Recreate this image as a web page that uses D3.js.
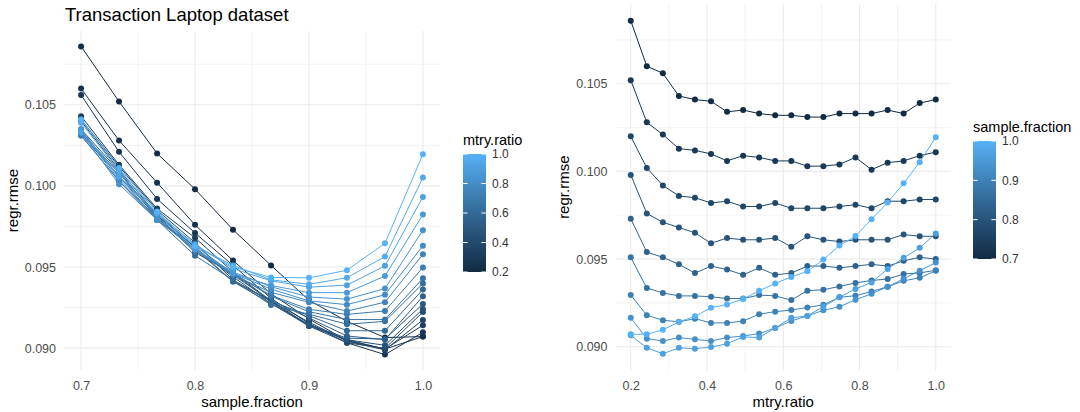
<!DOCTYPE html>
<html>
<head>
<meta charset="utf-8">
<script src="https://cdn.jsdelivr.net/npm/d3@7"></script>
<style>
  body { margin: 0; background: #fff; }
  text { font-family: "Liberation Sans", Arial, sans-serif; }
</style>
</head>
<body>
<svg width="1080" height="412"></svg>
<script>
// grid values
var sampleFraction = [0.7, 0.7333, 0.7667, 0.8, 0.8333, 0.8667, 0.9, 0.9333, 0.9667, 1.0];
var mtryRatio = [0.2, 0.2421, 0.2842, 0.3263, 0.3684, 0.4105, 0.4526, 0.4947, 0.5368, 0.5789,
	0.6211, 0.6632, 0.7053, 0.7474, 0.7895, 0.8316, 0.8737, 0.9158, 0.9579, 1.0];

// regr.rmse, one array per sample.fraction, in mtryRatio order
var rmseSf070 = [0.1086, 0.1060, 0.1056, 0.1043, 0.1041, 0.1040, 0.1034, 0.1035, 0.1033, 0.1032,
	0.1032, 0.1031, 0.1031, 0.1033, 0.1033, 0.1033, 0.1035, 0.1033, 0.1039, 0.1041];
var rmseSf073 = [0.1052, 0.1028, 0.1021, 0.1013, 0.1012, 0.1010, 0.1006, 0.1009, 0.1008, 0.1006,
	0.1006, 0.1003, 0.1003, 0.1004, 0.1008, 0.1001, 0.1005, 0.1006, 0.1009, 0.1011];
var rmseSf077 = [0.1020, 0.1002, 0.0992, 0.0986, 0.0985, 0.0982, 0.0983, 0.0980, 0.0980, 0.0982,
	0.0979, 0.0979, 0.0979, 0.0980, 0.0981, 0.0979, 0.0983, 0.0983, 0.0984, 0.0984];
var rmseSf080 = [0.0998, 0.0976, 0.0971, 0.0968, 0.0965, 0.0959, 0.0962, 0.0961, 0.0961, 0.0962,
	0.0957, 0.0963, 0.0961, 0.0960, 0.0961, 0.0961, 0.0961, 0.0964, 0.0963, 0.0963];
var rmseSf083 = [0.0973, 0.0954, 0.0951, 0.0947, 0.0942, 0.0946, 0.0944, 0.0941, 0.0945, 0.0941,
	0.0942, 0.0946, 0.0946, 0.0945, 0.0946, 0.0947, 0.0946, 0.0949, 0.0951, 0.0950];
var rmseSf087 = [0.0951, 0.09335, 0.09307, 0.0929, 0.0929, 0.09285, 0.09275, 0.09275, 0.09295, 0.0929,
	0.09266, 0.0932, 0.09325, 0.09344, 0.09364, 0.09378, 0.09386, 0.09415, 0.09421, 0.09436];
var rmseSf090 = [0.09295, 0.0918, 0.09151, 0.09142, 0.0916, 0.09136, 0.09136, 0.09146, 0.09186, 0.0920,
	0.09209, 0.09224, 0.09239, 0.09282, 0.09291, 0.09315, 0.09342, 0.09376, 0.09393, 0.09433];
var rmseSf093 = [0.09165, 0.09046, 0.09033, 0.09052, 0.09042, 0.09033, 0.09052, 0.09061, 0.09075, 0.09107,
	0.09147, 0.09176, 0.09208, 0.09228, 0.09268, 0.09302, 0.09342, 0.09388, 0.09434, 0.0948];
var rmseSf097 = [0.09065, 0.08994, 0.0896, 0.08994, 0.08989, 0.08998, 0.09017, 0.09056, 0.09052, 0.09107,
	0.09165, 0.09176, 0.09229, 0.09283, 0.09329, 0.09367, 0.09444, 0.09507, 0.09564, 0.09646];
var rmseSf100 = [0.09071, 0.09071, 0.09097, 0.09141, 0.09174, 0.09222, 0.09241, 0.09272, 0.09319, 0.09361,
	0.09398, 0.0943, 0.09497, 0.09578, 0.09631, 0.09727, 0.09823, 0.09932, 0.10052, 0.10195];

var rmse = [rmseSf070, rmseSf073, rmseSf077, rmseSf080, rmseSf083,
	rmseSf087, rmseSf090, rmseSf093, rmseSf097, rmseSf100];

var title = "Transaction Laptop dataset";

// long table
var rows = [];
sampleFraction.forEach((sf, i) => {
	mtryRatio.forEach((m, j) => {
		rows.push({ sf: sf, mtry: m, rmse: rmse[i][j] });
	});
});

var svg = d3.select("svg");

// ggplot default gradient
var grad = d3.interpolateLab("#132B43", "#56B1F7");

// 5% expansion like ggplot
function expand(ext) {
	var pad = (ext[1] - ext[0]) * 0.05;
	return [ext[0] - pad, ext[1] + pad];
}
var yDomain = expand(d3.extent(rows, (d) => d.rmse));

function panel(opt) {
	var x = d3.scaleLinear().domain(expand(d3.extent(opt.xvals))).range([opt.left, opt.right]);
	var y = d3.scaleLinear().domain(yDomain).range([opt.bottom, opt.top]);
	var col = d3.scaleSequential(grad).domain(d3.extent(opt.gvals));

	var g = svg.append("g");

	// grid, minor then major
	var grid = g.append("g");
	opt.xMinor.forEach((v) => {
		grid.append("line").attr("x1", x(v)).attr("x2", x(v)).attr("y1", opt.top).attr("y2", opt.bottom)
			.attr("stroke", "#F0F0F0").attr("stroke-width", 0.8);
	});
	[0.0925, 0.0975, 0.1025, 0.1075].forEach((v) => {
		grid.append("line").attr("x1", opt.left).attr("x2", opt.right).attr("y1", y(v)).attr("y2", y(v))
			.attr("stroke", "#F0F0F0").attr("stroke-width", 0.8);
	});
	opt.xTicks.forEach((v) => {
		grid.append("line").attr("x1", x(v)).attr("x2", x(v)).attr("y1", opt.top).attr("y2", opt.bottom)
			.attr("stroke", "#EBEBEB").attr("stroke-width", 1.1);
	});
	[0.090, 0.095, 0.100, 0.105].forEach((v) => {
		grid.append("line").attr("x1", opt.left).attr("x2", opt.right).attr("y1", y(v)).attr("y2", y(v))
			.attr("stroke", "#EBEBEB").attr("stroke-width", 1.1);
	});

	// axes (labels only, no ticks)
	var xAxis = g.append("g").attr("transform", "translate(0," + (opt.bottom + 8) + ")")
		.call(d3.axisBottom(x).tickValues(opt.xTicks).tickFormat(d3.format(".1f")).tickSize(0));
	var yAxis = g.append("g").attr("transform", "translate(" + (opt.left - 5) + ",0)")
		.call(d3.axisLeft(y).tickValues([0.090, 0.095, 0.100, 0.105]).tickFormat(d3.format(".3f")).tickSize(0));
	[xAxis, yAxis].forEach((a) => {
		a.select(".domain").remove();
		a.selectAll("text").attr("fill", "#4D4D4D").style("font-size", "12.5px")
			.style("font-family", "'Liberation Sans', Arial, sans-serif");
	});

	g.append("text").attr("x", (opt.left + opt.right) / 2).attr("y", 407)
		.attr("text-anchor", "middle").style("font-size", "15px").text(opt.xTitle);
	g.append("text").attr("transform", "translate(" + opt.yTitleX + "," + ((opt.top + opt.bottom) / 2) + ") rotate(-90)")
		.attr("text-anchor", "middle").style("font-size", "15px").text("regr.rmse");

	// one line per group
	var groups = d3.groups(rows, (d) => d[opt.group]);
	var line = d3.line().x((d) => x(d[opt.xkey])).y((d) => y(d.rmse));
	g.append("g").selectAll("path")
		.data(groups)
		.enter().append("path")
		.attr("d", (d) => line(d[1].slice().sort((a, b) => a[opt.xkey] - b[opt.xkey])))
		.attr("fill", "none")
		.attr("stroke", (d) => col(d[0]))
		.attr("stroke-width", 1);

	g.append("g").selectAll("circle")
		.data(rows.slice().sort((a, b) => a[opt.group] - b[opt.group]))
		.enter().append("circle")
		.attr("cx", (d) => x(d[opt.xkey]))
		.attr("cy", (d) => y(d.rmse))
		.attr("r", 3)
		.attr("fill", (d) => col(d[opt.group]));

	// colour bar legend
	var leg = opt.legend;
	var gradId = "grad" + opt.group;
	var lg = svg.append("defs").append("linearGradient").attr("id", gradId)
		.attr("x1", 0).attr("x2", 0).attr("y1", 1).attr("y2", 0);
	d3.range(0, 1.01, 0.1).forEach((t) => {
		lg.append("stop").attr("offset", t).attr("stop-color", grad(t));
	});
	var ly = d3.scaleLinear().domain(col.domain()).range([leg.bottom, leg.top]);
	g.append("text").attr("x", leg.x).attr("y", leg.titleY).style("font-size", "14.5px").text(leg.title);
	g.append("rect").attr("x", leg.x).attr("y", leg.top).attr("width", 23).attr("height", leg.bottom - leg.top)
		.attr("fill", "url(#" + gradId + ")");
	leg.ticks.forEach((v) => {
		[leg.x, leg.x + 23 - 4.6].forEach((tx) => {
			g.append("line").attr("x1", tx).attr("x2", tx + 4.6).attr("y1", ly(v)).attr("y2", ly(v))
				.attr("stroke", "#fff").attr("stroke-width", 1);
		});
		g.append("text").attr("x", leg.x + 29).attr("y", ly(v)).attr("dy", "0.35em")
			.style("font-size", "12px").attr("fill", "#333").text(d3.format(".1f")(v));
	});
}

// left: rmse vs sample.fraction, coloured by mtry.ratio
panel({
	xvals: sampleFraction, gvals: mtryRatio, xkey: "sf", group: "mtry",
	left: 64, right: 440, top: 31, bottom: 370,
	xTicks: [0.7, 0.8, 0.9, 1.0], xMinor: [0.75, 0.85, 0.95],
	xTitle: "sample.fraction", yTitleX: 18,
	legend: { x: 463, top: 154, bottom: 272, titleY: 145, title: "mtry.ratio", ticks: [0.2, 0.4, 0.6, 0.8, 1.0] }
});

// right: rmse vs mtry.ratio, coloured by sample.fraction
panel({
	xvals: mtryRatio, gvals: sampleFraction, xkey: "mtry", group: "sf",
	left: 615.5, right: 951, top: 4, bottom: 370.4,
	xTicks: [0.2, 0.4, 0.6, 0.8, 1.0], xMinor: [0.3, 0.5, 0.7, 0.9],
	xTitle: "mtry.ratio", yTitleX: 569,
	legend: { x: 973, top: 141, bottom: 259, titleY: 132, title: "sample.fraction", ticks: [0.7, 0.8, 0.9, 1.0] }
});

svg.append("text").attr("x", 65).attr("y", 21).style("font-size", "18.5px").text(title);
</script>
</body>
</html>
